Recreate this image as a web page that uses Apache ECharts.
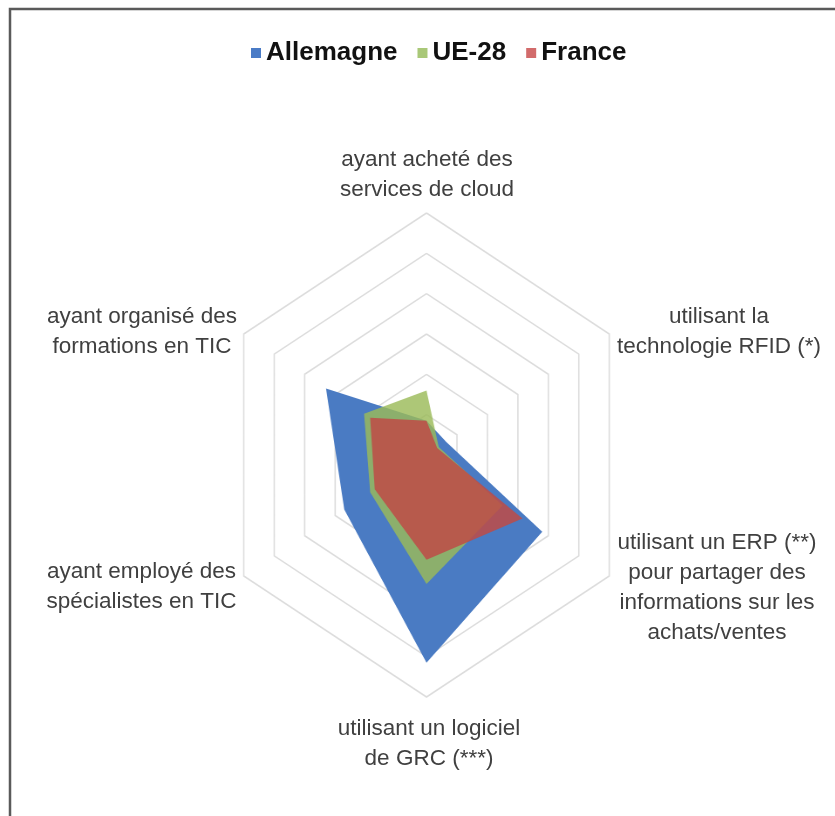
<!DOCTYPE html>
<html>
<head>
<meta charset="utf-8">
<script src="https://cdn.jsdelivr.net/npm/echarts@6/dist/echarts.min.js"></script>
<style>
  html, body { margin: 0; padding: 0; background: #fff; }
  #stage { position: relative; width: 835px; height: 816px; overflow: hidden; background: #fff; }
  #plot { position: absolute; left: 0; top: 0; height: 816px; transform-origin: 0 0; }
  #text { position: absolute; left: 0; top: 0; width: 835px; height: 816px; }
</style>
</head>
<body>
<div id="stage">
  <div id="plot"></div>
  <div id="text"></div>
</div>
<script>
// Indicators, listed counter-clockwise from the top (ECharts radar order)
const categories = [
  "ayant acheté des\nservices de cloud",
  "ayant organisé des\nformations en TIC",
  "ayant employé des\nspécialistes en TIC",
  "utilisant un logiciel\nde GRC (***)",
  "utilisant un ERP (**)\npour partager des\ninformations sur les\nachats/ventes",
  "utilisant la\ntechnologie RFID (*)"
];

// Share of enterprises (%), same order as categories
const allemagne = [8.5, 33, 27, 51.5, 38, 6.5];
const ue28      = [16, 20.5, 18.5, 32, 25, 4];
const france    = [8.5, 18.5, 17, 26, 31.5, 3.5];

const seriesNames = ["Allemagne", "UE-28", "France"];
const axisMax = 60;
const ringCount = 6;

// Layout
const SX = 0.872;                 // horizontal squeeze of the radar plot
const CX = 426.5, CY = 455, R = 242;
const labelPos = [[427, 175], [142, 332], [141.5, 587], [429, 744], [717, 587.5], [719, 331.5]];

const colors = {
  line: ["#4a7bc3", "#9bbb59", "#be4b46"],
  area: ["rgba(74,123,195,1)", "rgba(155,187,89,0.82)", "rgba(190,75,70,0.85)"],
  key:  ["#4a7bc6", "#a9c878", "#d26b6b"]
};

const indicator = categories.map(n => ({ name: n, min: 0, max: axisMax }));

// ---- radar plot (squeezed horizontally) ----
const plotEl = document.getElementById('plot');
plotEl.style.width = (835 / SX) + 'px';
plotEl.style.transform = 'scaleX(' + SX + ')';
const plot = echarts.init(plotEl, null, { renderer: 'canvas' });

const valueSets = [allemagne, ue28, france];
plot.setOption({
  animation: false,
  legend: { show: false, data: seriesNames },
  radar: {
    center: [CX / SX, CY],
    radius: R,
    startAngle: 90,
    shape: 'polygon',
    splitNumber: ringCount,
    indicator: indicator,
    axisName: { show: false },
    axisLine: { show: false },
    splitArea: { show: false },
    splitLine: { lineStyle: { color: '#dcdcdc', width: 1.6 } }
  },
  series: seriesNames.map((name, i) => ({
    type: 'radar',
    name: name,
    symbol: 'none',
    z: 2 + i,
    itemStyle: { color: colors.line[i] },
    lineStyle: { width: 0 },
    areaStyle: { color: colors.area[i], opacity: 1 },
    data: [{ value: valueSets[i], name: name }]
  }))
});

// ---- legend, indicator names and frame ----
const text = echarts.init(document.getElementById('text'), null, { renderer: 'canvas' });
const font = "'Liberation Sans', Arial, sans-serif";
text.setOption({
  animation: false,
  legend: {
    data: seriesNames.map((name, i) => ({ name: name, itemStyle: { color: colors.key[i] } })),
    top: 35,
    left: 246,
    icon: 'rect',
    itemWidth: 10,
    itemHeight: 10,
    itemGap: 20,
    textStyle: { fontFamily: font, fontSize: 26, fontWeight: 'bold', color: '#111' }
  },
  radar: {
    center: [CX, CY], radius: 1, indicator: indicator,
    axisName: { show: false }, axisLine: { show: false },
    splitLine: { show: false }, splitArea: { show: false }
  },
  series: seriesNames.map((name, i) => ({
    type: 'radar', name: name, symbol: 'none',
    itemStyle: { color: colors.line[i] },
    data: []
  })),
  graphic: [
    {
      type: 'rect',
      shape: { x: 10, y: 9, width: 900, height: 900 },
      style: { fill: 'none', stroke: '#5a5a5a', lineWidth: 2.5 },
      silent: true
    }
  ].concat(categories.map((name, i) => ({
    type: 'text',
    x: labelPos[i][0],
    y: labelPos[i][1],
    silent: true,
    style: {
      text: name,
      fontFamily: font,
      fontSize: 22.5,
      lineHeight: 30,
      fill: '#404040',
      align: 'center',
      verticalAlign: 'middle'
    }
  })))
});

text.on('legendselectchanged', e => {
  plot.dispatchAction({ type: 'legendToggleSelect', name: e.name });
});
</script>
</body>
</html>
